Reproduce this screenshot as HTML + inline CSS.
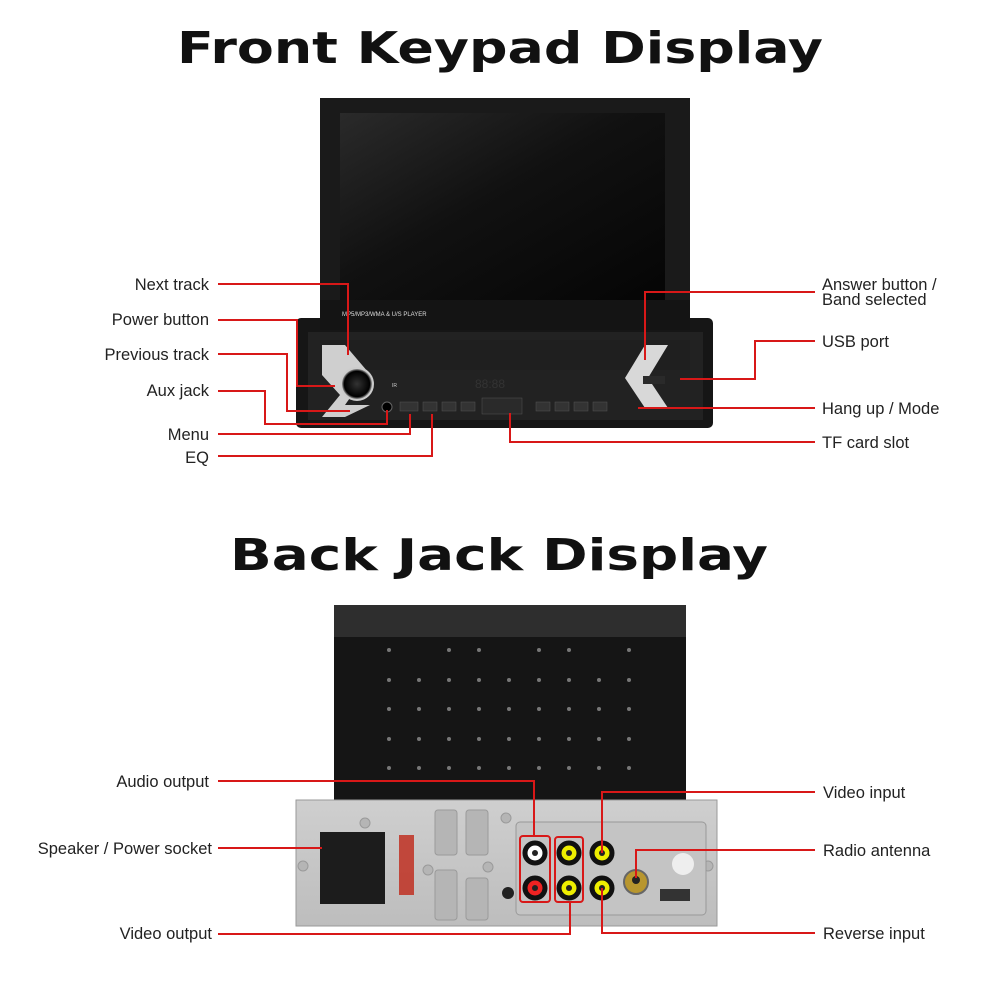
<!DOCTYPE html>
<html><head><meta charset="utf-8"><style>
html,body{margin:0;padding:0;background:#fff;}
svg{display:block;}
.t{font-family:"DejaVu Sans","Liberation Sans",sans-serif;font-weight:600;fill:#111;}
.l{font-family:"Liberation Sans",sans-serif;font-size:16.5px;fill:#222;}
.r{stroke:#d81818;stroke-width:2;fill:none;}
</style></head><body>
<svg width="1000" height="1000" viewBox="0 0 1000 1000" xmlns="http://www.w3.org/2000/svg">
<defs>
<linearGradient id="scr" x1="0" y1="0" x2="1" y2="1">
<stop offset="0" stop-color="#2a2a2a"/><stop offset="0.45" stop-color="#111"/><stop offset="1" stop-color="#050505"/></linearGradient>
<linearGradient id="plate" x1="0" y1="0" x2="0" y2="1">
<stop offset="0" stop-color="#cfcfcf"/><stop offset="1" stop-color="#bdbdbd"/></linearGradient>
<radialGradient id="knob" cx="0.5" cy="0.5" r="0.5"><stop offset="0" stop-color="#333"/><stop offset="0.8" stop-color="#000"/><stop offset="1" stop-color="#ddd"/></radialGradient>
</defs>
<text class="t" x="500" y="63" text-anchor="middle" font-size="44" textLength="646" lengthAdjust="spacingAndGlyphs">Front Keypad Display</text>
<text class="t" x="499" y="570" text-anchor="middle" font-size="44" textLength="538" lengthAdjust="spacingAndGlyphs">Back Jack Display</text>

<!-- FRONT UNIT -->
<rect x="296" y="318" width="417" height="110" rx="5" fill="#161616"/>
<rect x="308" y="332" width="395" height="88" fill="#222"/>
<rect x="320" y="98" width="370" height="232" fill="#1a1a1a"/>
<rect x="340" y="113" width="325" height="187" fill="url(#scr)"/>
<rect x="320" y="300" width="370" height="30" fill="#141414"/>
<text x="342" y="316" font-family="Liberation Sans,sans-serif" font-size="6" fill="#ddd">MP5/MP3/WMA &amp; U/S PLAYER</text>
<rect x="320" y="340" width="370" height="30" fill="#1f1f1f"/>
<polygon points="322,345 345,345 368,372 345,405 370,405 345,417 322,417 340,395 322,375" fill="#cfcfcf"/>
<polygon points="668,345 645,345 625,378 645,408 668,408 648,378" fill="#d8d8d8"/>
<circle cx="357" cy="384" r="16" fill="url(#knob)" stroke="#ccc" stroke-width="2"/>
<circle cx="387" cy="407" r="5" fill="#000" stroke="#666"/>
<text x="392" y="387" font-size="5" fill="#ccc" font-family="Liberation Sans">IR</text>
<g fill="#333" stroke="#555" stroke-width="0.5">
<rect x="400" y="402" width="18" height="9"/><rect x="423" y="402" width="14" height="9"/><rect x="442" y="402" width="14" height="9"/><rect x="461" y="402" width="14" height="9"/>
<rect x="482" y="398" width="40" height="16" fill="#2a2a2a"/>
<rect x="536" y="402" width="14" height="9"/><rect x="555" y="402" width="14" height="9"/><rect x="574" y="402" width="14" height="9"/><rect x="593" y="402" width="14" height="9"/>
</g>
<text x="475" y="388" font-size="12" fill="#333" font-family="Liberation Sans">88:88</text>
<rect x="643" y="376" width="22" height="8" fill="#2a2a2a"/>

<!-- front connectors -->
<path class="r" d="M218 284 H348 V355"/>
<path class="r" d="M218 320 H297 V386 H335"/>
<path class="r" d="M218 354 H287 V411 H350"/>
<path class="r" d="M218 391 H265 V424 H387 V410"/>
<path class="r" d="M218 434 H410 V414"/>
<path class="r" d="M218 456 H432 V414"/>
<path class="r" d="M815 292 H645 V360"/>
<path class="r" d="M815 341 H755 V379 H680"/>
<path class="r" d="M815 408 H638"/>
<path class="r" d="M815 442 H510 V413"/>

<g class="l" text-anchor="end">
<text x="209" y="290">Next track</text>
<text x="209" y="325">Power button</text>
<text x="209" y="360">Previous track</text>
<text x="209" y="396">Aux jack</text>
<text x="209" y="440">Menu</text>
<text x="209" y="463">EQ</text>
<text x="209" y="787">Audio output</text>
<text x="212" y="854">Speaker / Power socket</text>
<text x="212" y="939">Video output</text>
</g>
<g class="l">
<text x="822" y="290">Answer button /</text>
<text x="822" y="305">Band selected</text>
<text x="822" y="347">USB port</text>
<text x="822" y="414">Hang up / Mode</text>
<text x="822" y="448">TF card slot</text>
<text x="823" y="798">Video input</text>
<text x="823" y="856">Radio antenna</text>
<text x="823" y="939">Reverse input</text>
</g>

<!-- BACK UNIT -->
<rect x="334" y="605" width="352" height="200" fill="#151515"/>
<rect x="334" y="605" width="352" height="32" fill="#2e2e2e"/>
<g fill="#777">
<g id="row"><circle cx="389" cy="680" r="2"/><circle cx="419" cy="680" r="2"/><circle cx="449" cy="680" r="2"/><circle cx="479" cy="680" r="2"/><circle cx="509" cy="680" r="2"/><circle cx="539" cy="680" r="2"/><circle cx="569" cy="680" r="2"/><circle cx="599" cy="680" r="2"/><circle cx="629" cy="680" r="2"/></g>
<use href="#row" y="29"/><use href="#row" y="59"/><use href="#row" y="88"/>
<circle cx="389" cy="650" r="2"/><circle cx="449" cy="650" r="2"/><circle cx="479" cy="650" r="2"/><circle cx="539" cy="650" r="2"/><circle cx="569" cy="650" r="2"/><circle cx="629" cy="650" r="2"/>
</g>
<rect x="296" y="800" width="421" height="126" fill="url(#plate)" stroke="#999"/>
<g fill="#b5b5b5" stroke="#9a9a9a">
<rect x="435" y="810" width="22" height="45" rx="3"/><rect x="466" y="810" width="22" height="45" rx="3"/>
<rect x="435" y="870" width="22" height="50" rx="3"/><rect x="466" y="878" width="22" height="42" rx="3"/>
<circle cx="365" cy="823" r="5"/><circle cx="303" cy="866" r="5"/><circle cx="428" cy="870" r="5"/><circle cx="488" cy="867" r="5"/><circle cx="506" cy="818" r="5"/><circle cx="708" cy="866" r="5"/>
</g>
<rect x="320" y="832" width="65" height="72" fill="#1c1c1c"/>
<rect x="399" y="835" width="15" height="60" fill="#c0392b" opacity="0.9"/>
<rect x="516" y="822" width="190" height="93" rx="4" fill="#c4c4c4" stroke="#999"/>
<g stroke="#111" stroke-width="5">
<circle cx="535" cy="853" r="10" fill="#fff"/><circle cx="535" cy="888" r="10" fill="#e22"/>
<circle cx="569" cy="853" r="10" fill="#ee0"/><circle cx="569" cy="888" r="10" fill="#ee0"/>
<circle cx="602" cy="853" r="10" fill="#ee0"/><circle cx="602" cy="888" r="10" fill="#ee0"/>
</g>
<g fill="#222"><circle cx="535" cy="853" r="3"/><circle cx="535" cy="888" r="3"/><circle cx="569" cy="853" r="3"/><circle cx="569" cy="888" r="3"/><circle cx="602" cy="853" r="3"/><circle cx="602" cy="888" r="3"/></g>
<circle cx="508" cy="893" r="6" fill="#222"/>
<circle cx="636" cy="882" r="12" fill="#b8962e" stroke="#666" stroke-width="2"/><circle cx="636" cy="880" r="4" fill="#222"/>
<circle cx="683" cy="864" r="11" fill="#eee"/>
<rect x="660" y="889" width="30" height="12" fill="#333"/>
<rect x="520" y="836" width="30" height="66" rx="3" class="r"/>
<rect x="555" y="837" width="28" height="65" rx="3" class="r"/>

<path class="r" d="M218 781 H534 V835"/>
<path class="r" d="M218 848 H322"/>
<path class="r" d="M218 934 H570 V903"/>
<path class="r" d="M815 792 H602 V853"/>
<path class="r" d="M815 850 H636 V878"/>
<path class="r" d="M815 933 H602 V888"/>
</svg>
</body></html>
